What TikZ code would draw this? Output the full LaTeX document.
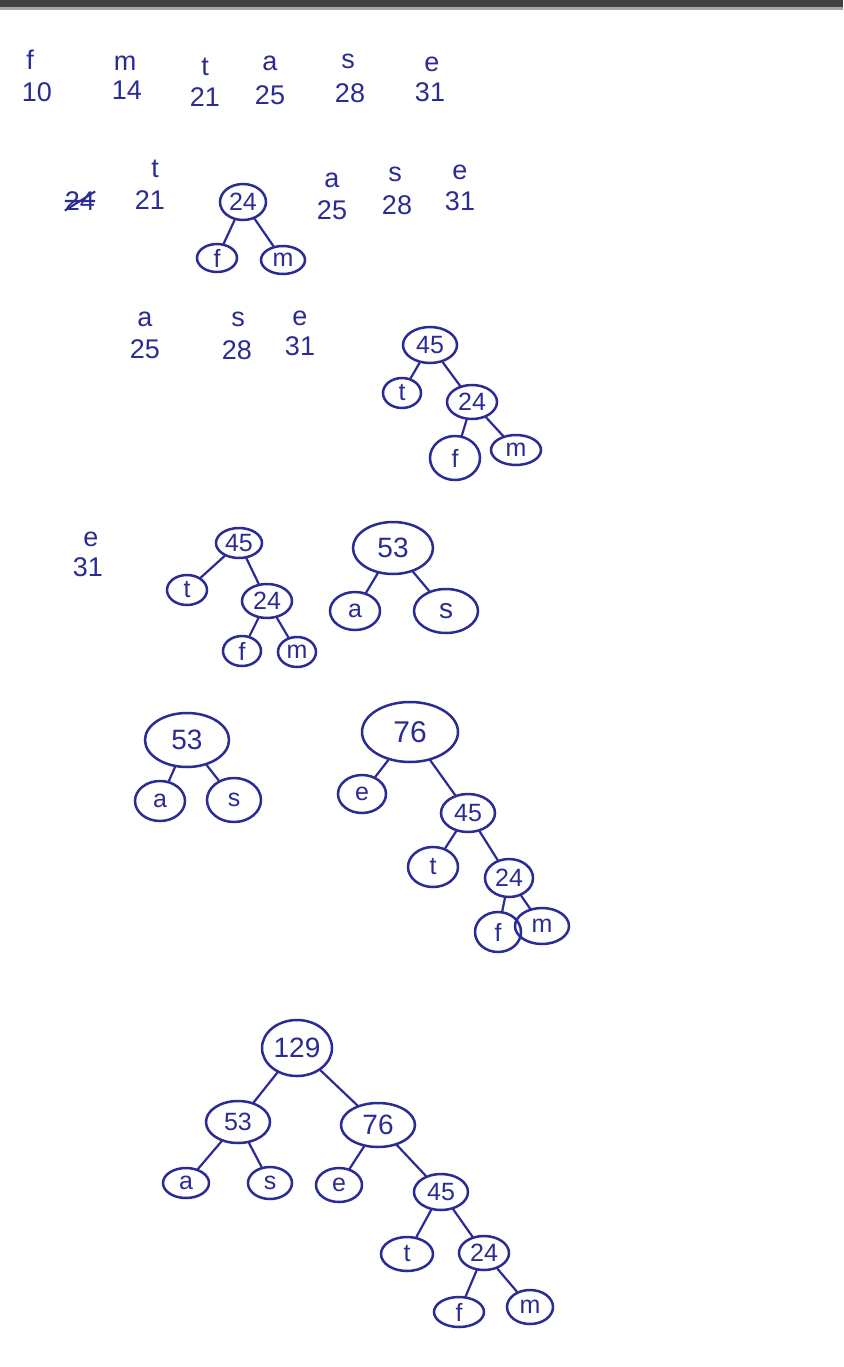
\documentclass[tikz,border=0pt]{standalone}
\usepackage{fontspec}
\setmainfont{Liberation Sans}
\usetikzlibrary{shapes.geometric}
\definecolor{ink}{HTML}{2A2C94}
\begin{document}
\begin{tikzpicture}[x=1pt,y=-1pt,
  lab/.style={text=ink,font=\fontsize{27}{30}\selectfont,inner sep=0pt},
  ch/.style={text=ink,font=\fontsize{27}{30}\selectfont,inner sep=0pt},
  nd/.style={ellipse,draw=ink,line width=2.5pt,text=ink,inner sep=0pt,font=\fontsize{25}{27}\selectfont},
  ed/.style={draw=ink,line width=2.2pt,line cap=round}]
\useasboundingbox[fill=white] (0,0) rectangle (843,1367);
\fill[black!75] (0,0) rectangle (843,7);
\fill[black!35] (0,7) rectangle (843,10);

% ---- row 1
\node[ch] (f1) at (30,60) {f};   \node[lab] (f1n) at (37,92) {10};
\node[ch] (m1) at (125,63) {m};  \node[lab] (m1n) at (127,90) {14};
\node[ch] (t1) at (205,67) {t};  \node[lab] (t1n) at (205,97) {21};
\node[ch] (a1) at (270,63) {a};  \node[lab] (a1n) at (270,95) {25};
\node[ch] (s1) at (348,61) {s};  \node[lab] (s1n) at (350,93) {28};
\node[ch] (e1) at (432,64) {e};  \node[lab] (e1n) at (430,92) {31};

% ---- row 2
\node[lab] (x2) at (80,201) {24};
\draw[ink,line width=2pt] (x2.west) -- (x2.east) (x2.south west) -- (x2.north east);
\node[ch] (t2) at (155,169) {t}; \node[lab] (t2n) at (150,200) {21};
\node[ch] (a2) at (332,180) {a}; \node[lab] (a2n) at (332,210) {25};
\node[ch] (s2) at (395,174) {s}; \node[lab] (s2n) at (397,205) {28};
\node[ch] (e2) at (460,172) {e}; \node[lab] (e2n) at (460,201) {31};
\node[nd,minimum width=46pt,minimum height=36pt] (r2) at (243,202) {24};
\node[nd,minimum width=40pt,minimum height=28pt] (r2f) at (217,258) {f};
\node[nd,minimum width=44pt,minimum height=28pt] (r2m) at (283,260) {m};
\draw[ed] (r2) -- (r2f); \draw[ed] (r2) -- (r2m);

% ---- row 3
\node[ch] (a3) at (145,319) {a}; \node[lab] (a3n) at (145,349) {25};
\node[ch] (s3) at (238,319) {s}; \node[lab] (s3n) at (237,350) {28};
\node[ch] (e3) at (300,318) {e}; \node[lab] (e3n) at (300,346) {31};
\node[nd,minimum width=54pt,minimum height=36pt] (r3) at (430,345) {45};
\node[nd,minimum width=38pt,minimum height=30pt] (r3t) at (402,393) {t};
\node[nd,minimum width=50pt,minimum height=34pt] (r3b) at (472,402) {24};
\node[nd,minimum width=50pt,minimum height=44pt] (r3f) at (455,458) {f};
\node[nd,minimum width=50pt,minimum height=30pt] (r3m) at (516,450) {m};
\draw[ed] (r3) -- (r3t); \draw[ed] (r3) -- (r3b);
\draw[ed] (r3b) -- (r3f); \draw[ed] (r3b) -- (r3m);

% ---- row 4
\node[ch] (e4) at (91,539) {e}; \node[lab] (e4n) at (88,567) {31};
\node[nd,minimum width=46pt,minimum height=30pt] (r4) at (239,543) {45};
\node[nd,minimum width=40pt,minimum height=30pt] (r4t) at (187,590) {t};
\node[nd,minimum width=50pt,minimum height=34pt] (r4b) at (267,601) {24};
\node[nd,minimum width=38pt,minimum height=30pt] (r4f) at (242,651) {f};
\node[nd,minimum width=38pt,minimum height=30pt] (r4m) at (297,652) {m};
\draw[ed] (r4) -- (r4t); \draw[ed] (r4) -- (r4b);
\draw[ed] (r4b) -- (r4f); \draw[ed] (r4b) -- (r4m);
\node[nd,minimum width=80pt,minimum height=52pt,font=\fontsize{28}{30}\selectfont] (q4) at (393,548) {53};
\node[nd,minimum width=50pt,minimum height=38pt] (q4a) at (355,611) {a};
\node[nd,minimum width=64pt,minimum height=44pt,font=\fontsize{28}{30}\selectfont] (q4s) at (446,611) {s};
\draw[ed] (q4) -- (q4a); \draw[ed] (q4) -- (q4s);

% ---- row 5
\node[nd,minimum width=84pt,minimum height=54pt,font=\fontsize{28}{30}\selectfont] (p5) at (187,740) {53};
\node[nd,minimum width=50pt,minimum height=40pt] (p5a) at (160,801) {a};
\node[nd,minimum width=54pt,minimum height=44pt] (p5s) at (234,800) {s};
\draw[ed] (p5) -- (p5a); \draw[ed] (p5) -- (p5s);
\node[nd,minimum width=96pt,minimum height=60pt,font=\fontsize{30}{32}\selectfont] (r5) at (410,732) {76};
\node[nd,minimum width=48pt,minimum height=38pt] (r5e) at (362,794) {e};
\node[nd,minimum width=54pt,minimum height=38pt] (r5c) at (468,813) {45};
\node[nd,minimum width=50pt,minimum height=40pt] (r5t) at (433,867) {t};
\node[nd,minimum width=48pt,minimum height=38pt] (r5b) at (509,878) {24};
\node[nd,minimum width=46pt,minimum height=40pt] (r5f) at (498,932) {f};
\node[nd,minimum width=54pt,minimum height=36pt] (r5m) at (542,926) {m};
\draw[ed] (r5) -- (r5e); \draw[ed] (r5) -- (r5c);
\draw[ed] (r5c) -- (r5t); \draw[ed] (r5c) -- (r5b);
\draw[ed] (r5b) -- (r5f); \draw[ed] (r5b) -- (r5m);

% ---- row 6 (final tree)
\node[nd,minimum width=70pt,minimum height=56pt,font=\fontsize{28}{30}\selectfont] (h) at (297,1048) {129};
\node[nd,minimum width=64pt,minimum height=42pt] (ha) at (238,1122) {53};
\node[nd,minimum width=74pt,minimum height=44pt,font=\fontsize{28}{30}\selectfont] (hb) at (378,1125) {76};
\node[nd,minimum width=46pt,minimum height=30pt] (haa) at (186,1183) {a};
\node[nd,minimum width=44pt,minimum height=32pt] (has) at (270,1183) {s};
\node[nd,minimum width=46pt,minimum height=34pt] (hbe) at (339,1185) {e};
\node[nd,minimum width=54pt,minimum height=36pt] (hbc) at (441,1192) {45};
\node[nd,minimum width=52pt,minimum height=34pt] (hbt) at (407,1254) {t};
\node[nd,minimum width=50pt,minimum height=34pt] (hbd) at (484,1253) {24};
\node[nd,minimum width=50pt,minimum height=30pt] (hbf) at (459,1312) {f};
\node[nd,minimum width=46pt,minimum height=34pt] (hbm) at (530,1307) {m};
\draw[ed] (h) -- (ha); \draw[ed] (h) -- (hb);
\draw[ed] (ha) -- (haa); \draw[ed] (ha) -- (has);
\draw[ed] (hb) -- (hbe); \draw[ed] (hb) -- (hbc);
\draw[ed] (hbc) -- (hbt); \draw[ed] (hbc) -- (hbd);
\draw[ed] (hbd) -- (hbf); \draw[ed] (hbd) -- (hbm);
\end{tikzpicture}
\end{document}
